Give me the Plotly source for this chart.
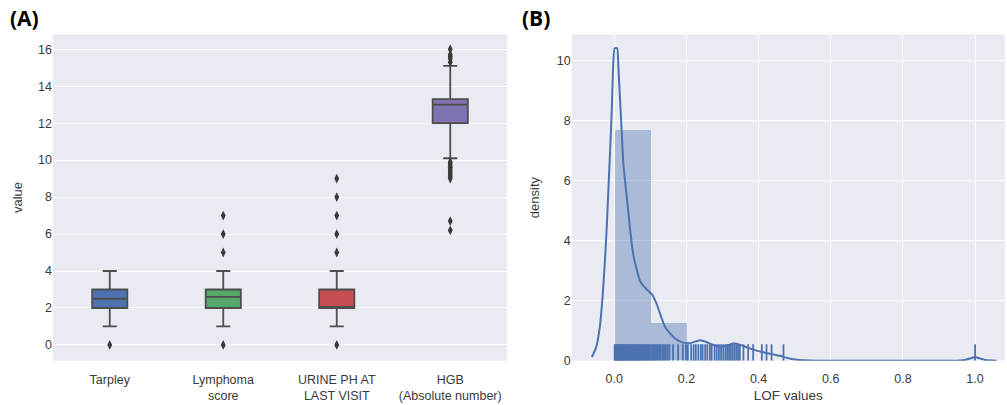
import plotly.graph_objects as go

# ---------------- Panel A data (box plots) ----------------
categories = ["Tarpley", "Lymphoma<br>score", "URINE PH AT<br>LAST VISIT", "HGB<br>(Absolute number)"]
box_colors = ["#4C72B0", "#55A868", "#C44E52", "#8172B2"]
q1 = [2.0, 2.0, 2.0, 12.0]
median = [2.5, 2.6, 2.0, 13.0]
q3 = [3.0, 3.0, 3.0, 13.3]
lower_fence = [1.0, 1.0, 1.0, 10.1]
upper_fence = [4.0, 4.0, 4.0, 15.1]
outliers = [
    [0.0],
    [0.0, 5.0, 6.0, 7.0],
    [0.0, 5.0, 6.0, 7.0, 8.0, 9.0],
    [15.3, 15.5, 15.6, 15.7, 16.0, 9.9, 9.8, 9.7, 9.6, 9.5, 9.4, 9.3, 9.2, 9.1, 9.0, 6.7, 6.2],
]
a_yticks = [0, 2, 4, 6, 8, 10, 12, 14, 16]

# ---------------- Panel B data (LOF distribution) ----------------
hist_left = [0.0, 0.1]
hist_height = [7.65, 1.25]
hist_binwidth = 0.1

kde_x = [-0.062, -0.05, -0.04, -0.032, -0.026, -0.021, -0.017, -0.013, -0.009, -0.006, -0.003,
         0.001, 0.008, 0.0112, 0.0158, 0.0205, 0.0251, 0.0343, 0.0436, 0.0528, 0.0713, 0.0851,
         0.1036, 0.1175, 0.1267, 0.1406, 0.1544, 0.1729, 0.1914, 0.21, 0.237, 0.255, 0.274,
         0.29, 0.311, 0.33, 0.339, 0.355, 0.367, 0.39, 0.413, 0.436, 0.459, 0.48, 0.5, 0.53,
         0.56, 0.95, 0.972, 0.988, 1.0, 1.012, 1.03, 1.06]
kde_y = [0.12, 0.45, 1.13, 2.2, 3.3, 4.4, 5.5, 6.6, 7.7, 8.7, 9.8,
         10.4, 10.4, 9.83, 8.74, 7.65, 6.57, 5.48, 4.4, 3.52, 2.65, 2.43,
         2.22, 1.89, 1.57, 1.13, 0.91, 0.7, 0.6, 0.58, 0.68, 0.62, 0.52,
         0.47, 0.5, 0.57, 0.56, 0.5, 0.44, 0.35, 0.28, 0.22, 0.16, 0.09, 0.04, 0.01,
         0.0, 0.0, 0.02, 0.08, 0.12, 0.08, 0.02, 0.0]

rug_values = [0.001, 0.003, 0.005, 0.007, 0.009, 0.011, 0.013, 0.016, 0.018, 0.02, 0.022, 0.025,
              0.027, 0.029, 0.031, 0.034, 0.036, 0.038, 0.041, 0.043, 0.046, 0.048, 0.051, 0.053,
              0.056, 0.058, 0.061, 0.063, 0.066, 0.069, 0.071, 0.074, 0.077, 0.08, 0.083, 0.086,
              0.089, 0.092, 0.095, 0.098, 0.102, 0.106, 0.11, 0.113, 0.117, 0.121, 0.125, 0.129,
              0.134, 0.138, 0.143, 0.148, 0.153, 0.163, 0.177, 0.19, 0.199, 0.204, 0.213, 0.22,
              0.226, 0.233, 0.24, 0.245, 0.252, 0.258, 0.265, 0.27, 0.278, 0.284, 0.29, 0.296,
              0.302, 0.308, 0.313, 0.318, 0.323, 0.328, 0.333, 0.338, 0.343, 0.348, 0.358, 0.371,
              0.385, 0.409, 0.422, 0.436, 0.469, 1.0]
rug_height = 0.55
b_xticks = [0.0, 0.2, 0.4, 0.6, 0.8, 1.0]
b_yticks = [0, 2, 4, 6, 8, 10]

BG = "#EAEAF2"
EDGE = "#4d4d4d"
FONT = "Liberation Sans, Arial, sans-serif"
TICKC = "#3a3a3a"

fig = go.Figure()

# Panel A boxes
for i, cat in enumerate(categories):
    fig.add_trace(go.Box(
        x=[cat], q1=[q1[i]], median=[median[i]], q3=[q3[i]],
        lowerfence=[lower_fence[i]], upperfence=[upper_fence[i]],
        fillcolor=box_colors[i], line=dict(color=EDGE, width=1.8),
        width=0.31, whiskerwidth=0.4, boxpoints=False,
        xaxis="x", yaxis="y", showlegend=False, hoverinfo="skip",
    ))
    fig.add_trace(go.Scatter(
        x=[cat] * len(outliers[i]), y=outliers[i], mode="markers",
        marker=dict(symbol="diamond-tall", size=7, color="#3a3a3a"),
        xaxis="x", yaxis="y", showlegend=False, hoverinfo="skip",
    ))

# Panel B histogram
fig.add_trace(go.Bar(
    x=[l + hist_binwidth / 2 for l in hist_left], y=hist_height,
    width=[hist_binwidth] * len(hist_left),
    marker=dict(color="rgba(76,114,176,0.4)", line=dict(width=0)),
    xaxis="x2", yaxis="y2", showlegend=False, hoverinfo="skip",
))

# Rug
rx, ry = [], []
for v in rug_values:
    rx += [v, v, None]
    ry += [0, rug_height, None]
fig.add_trace(go.Scatter(
    x=rx, y=ry, mode="lines", line=dict(color="#4C72B0", width=1.8),
    xaxis="x2", yaxis="y2", showlegend=False, hoverinfo="skip",
))

# KDE
fig.add_trace(go.Scatter(
    x=kde_x, y=kde_y, mode="lines", line=dict(color="#4C72B0", width=2, shape="spline", smoothing=0.5),
    xaxis="x2", yaxis="y2", showlegend=False, hoverinfo="skip",
))

W, H = 1007, 405
ydom = [(H - 367) / H, (H - 35) / H]

fig.update_layout(
    width=W, height=H,
    margin=dict(l=0, r=0, t=0, b=0),
    paper_bgcolor="white", plot_bgcolor=BG,
    font=dict(family=FONT, size=12, color=TICKC),
    bargap=0,
    xaxis=dict(domain=[53 / W, 507 / W], range=[-0.5, 3.5], showgrid=False, zeroline=False,
               showline=False, ticks="", tickfont=dict(size=12.5, color=TICKC),
               ticklabelstandoff=10,
               categoryorder="array", categoryarray=categories, fixedrange=True),
    yaxis=dict(domain=ydom, range=[-0.85, 16.8], tickvals=a_yticks, showgrid=True,
               gridcolor="white", gridwidth=1.2, zeroline=False, showline=False, ticks="",
               tickfont=dict(size=12.5, color=TICKC),
               title=dict(text="value", font=dict(size=13, color=TICKC), standoff=12)),
    xaxis2=dict(domain=[571.7 / W, 1005 / W], range=[-0.118, 1.083], tickvals=b_xticks,
                ticktext=["0.0", "0.2", "0.4", "0.6", "0.8", "1.0"],
                showgrid=True, gridcolor="white", gridwidth=1.2, zeroline=False, showline=False,
                ticks="", tickfont=dict(size=12.5, color=TICKC), anchor="y2",
                ticklabelstandoff=9,
                title=dict(text="LOF values", font=dict(size=13.5, color=TICKC), standoff=5)),
    yaxis2=dict(domain=ydom, range=[0, 10.86], tickvals=b_yticks, showgrid=True,
                gridcolor="white", gridwidth=1.2, zeroline=False, showline=False, ticks="",
                tickfont=dict(size=12.5, color=TICKC), anchor="x2",
                title=dict(text="density", font=dict(size=13, color=TICKC), standoff=14)),
    annotations=[
        dict(text="<b>(A)</b>", x=8 / W, y=1 - 18 / H, xref="paper", yref="paper",
             xanchor="left", yanchor="middle", showarrow=False,
             font=dict(size=21, color="black", family="Open Sans, Liberation Sans, sans-serif")),
        dict(text="<b>(B)</b>", x=520 / W, y=1 - 18 / H, xref="paper", yref="paper",
             xanchor="left", yanchor="middle", showarrow=False,
             font=dict(size=21, color="black", family="Open Sans, Liberation Sans, sans-serif")),
    ],
)

fig.write_html("out.html")
